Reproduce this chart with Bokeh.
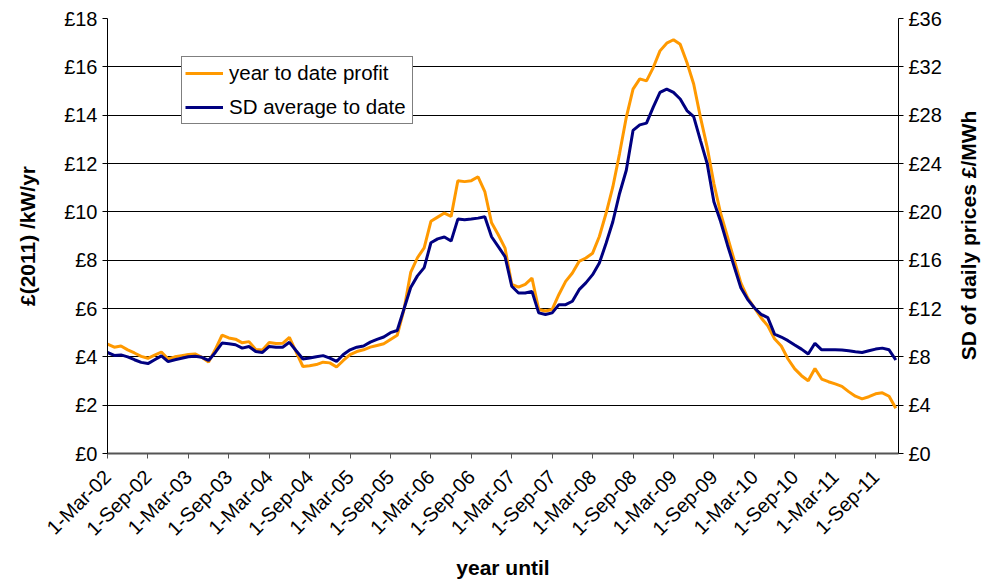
import math
from bokeh.plotting import figure
from bokeh.models import (Range1d, LinearAxis, FixedTicker, SingleIntervalTicker,
                          PrintfTickFormatter, Legend, LegendItem, Label)
from bokeh.embed import file_html
from bokeh.resources import INLINE

# year to date profit, £(2011)/kW/yr (left axis), monthly from 1-Mar-02
profit = [4.53, 4.40, 4.45, 4.29, 4.16, 4.02, 3.94, 4.07, 4.20, 3.91,
          4.00, 4.05, 4.10, 4.12, 3.98, 3.78, 4.30, 4.90, 4.78, 4.73,
          4.58, 4.63, 4.30, 4.28, 4.59, 4.55, 4.56, 4.81, 4.20, 3.60,
          3.63, 3.68, 3.78, 3.75, 3.58, 3.85, 4.09, 4.22, 4.29, 4.40,
          4.47, 4.54, 4.72, 4.89, 5.95, 7.49, 8.10, 8.51, 9.61, 9.78,
          9.95, 9.81, 11.29, 11.25, 11.29, 11.45, 10.84, 9.55, 9.05, 8.50,
          7.00, 6.88, 7.00, 7.26, 5.96, 5.90, 5.96, 6.58, 7.12, 7.47,
          7.95, 8.09, 8.29, 8.98, 9.94, 11.03, 12.41, 13.91, 15.08, 15.50,
          15.42, 15.97, 16.66, 16.98, 17.12, 16.93, 16.18, 15.29, 13.92, 12.68,
          11.17, 9.94, 8.98, 8.02, 7.06, 6.45, 6.03, 5.62, 5.28, 4.75,
          4.45, 3.91, 3.50, 3.22, 3.01, 3.52, 3.08, 2.97, 2.88, 2.78,
          2.56, 2.37, 2.26, 2.35, 2.47, 2.51, 2.37, 1.87]

# SD of daily prices average to date, £/MWh (right axis)
sd_avg = [8.36, 8.12, 8.16, 8.00, 7.76, 7.54, 7.44, 7.76, 8.08, 7.60,
          7.76, 7.88, 8.00, 8.04, 7.96, 7.70, 8.36, 9.14, 9.08, 9.00,
          8.72, 8.86, 8.44, 8.36, 8.86, 8.80, 8.80, 9.20, 8.50, 7.82,
          7.90, 8.00, 8.10, 7.90, 7.62, 8.20, 8.58, 8.80, 8.90, 9.22,
          9.44, 9.64, 10.00, 10.18, 11.96, 13.74, 14.70, 15.38, 17.44, 17.76,
          17.92, 17.58, 19.40, 19.34, 19.40, 19.48, 19.60, 17.94, 17.12, 16.30,
          13.84, 13.28, 13.28, 13.42, 11.64, 11.50, 11.64, 12.32, 12.32, 12.60,
          13.56, 14.12, 14.80, 15.76, 17.40, 19.18, 21.52, 23.44, 26.74, 27.20,
          27.34, 28.66, 29.88, 30.16, 29.88, 29.34, 28.38, 27.88, 25.92, 24.00,
          20.84, 19.20, 17.28, 15.50, 13.72, 12.76, 12.06, 11.52, 11.24, 9.88,
          9.64, 9.34, 8.98, 8.64, 8.24, 9.12, 8.58, 8.58, 8.58, 8.56,
          8.50, 8.42, 8.36, 8.50, 8.64, 8.72, 8.58, 7.74]

months = list(range(len(profit)))

tick_months = [0, 6, 12, 18, 24, 30, 36, 42, 48, 54, 60, 66, 72, 78, 84, 90, 96, 102, 108, 114]
tick_labels = ["1-Mar-02", "1-Sep-02", "1-Mar-03", "1-Sep-03", "1-Mar-04", "1-Sep-04",
               "1-Mar-05", "1-Sep-05", "1-Mar-06", "1-Sep-06", "1-Mar-07", "1-Sep-07",
               "1-Mar-08", "1-Sep-08", "1-Mar-09", "1-Sep-09", "1-Mar-10", "1-Sep-10",
               "1-Mar-11", "1-Sep-11"]

FONT = "Liberation Sans"
ORANGE = "#FF9900"
NAVY = "#000080"

p = figure(width=984, height=582, output_backend="svg", toolbar_location=None,
           x_range=Range1d(0, 117.4), y_range=Range1d(0, 18),
           min_border_left=107, min_border_right=86, min_border_top=18,
           min_border_bottom=128)
p.outline_line_color = None
p.background_fill_color = "white"
p.extra_y_ranges = {"sd": Range1d(0, 36)}

# left axis
ya = p.yaxis[0]
ya.ticker = SingleIntervalTicker(interval=2)
ya.formatter = PrintfTickFormatter(format="£%d")
ya.axis_label = "£(2011) /kW/yr"
ya.minor_tick_line_color = None
ya.major_tick_out = 5
ya.major_tick_in = 0
ya.axis_line_color = "black"
ya.major_tick_line_color = "black"
ya.major_label_text_font = FONT
ya.major_label_text_font_size = "20px"
ya.major_label_text_color = "black"
ya.axis_label_text_font = FONT
ya.axis_label_text_font_style = "bold"
ya.axis_label_text_font_size = "21px"
ya.axis_label_text_color = "black"
ya.axis_label_standoff = 22

# right axis
ra = LinearAxis(y_range_name="sd", ticker=SingleIntervalTicker(interval=4),
                formatter=PrintfTickFormatter(format="£%d"))
ra.minor_tick_line_color = None
ra.major_tick_out = 5
ra.major_tick_in = 0
ra.axis_line_color = "black"
ra.major_label_text_font = FONT
ra.major_label_text_font_size = "20px"
ra.major_label_text_color = "black"
p.add_layout(ra, "right")

# right axis title, reading upwards as in the reference (placed in the right panel)
right_title = Label(x=24, y=218, x_units="screen", y_units="screen",
                    text="SD of daily prices £/MWh", angle=math.pi / 2,
                    text_align="center", text_baseline="middle",
                    text_font=FONT, text_font_style="bold",
                    text_font_size="21px", text_color="black")
p.add_layout(right_title, "right")

# bottom axis
xa = p.xaxis[0]
xa.ticker = FixedTicker(ticks=tick_months)
xa.major_label_overrides = {m: lab for m, lab in zip(tick_months, tick_labels)}
xa.major_label_orientation = math.pi / 4
xa.major_label_standoff = 15
xa.minor_tick_line_color = None
xa.major_tick_out = 5
xa.major_tick_in = 0
xa.axis_line_color = "#555555"
xa.axis_line_width = 2
xa.major_tick_line_color = "#555555"
xa.major_label_text_font = FONT
xa.major_label_text_font_size = "20px"
xa.major_label_text_color = "black"
xa.axis_label = "year until"
xa.axis_label_text_font = FONT
xa.axis_label_text_font_style = "bold"
xa.axis_label_text_font_size = "21px"
xa.axis_label_text_color = "black"
xa.axis_label_standoff = 6

p.xgrid.grid_line_color = None
p.ygrid.grid_line_color = "black"
p.ygrid.grid_line_width = 1
p.ygrid.ticker = SingleIntervalTicker(interval=2)

r1 = p.line(months, profit, line_color=ORANGE, line_width=3)
r2 = p.line(months, sd_avg, line_color=NAVY, line_width=3, y_range_name="sd")

legend = Legend(items=[LegendItem(label="year to date profit", renderers=[r1]),
                       LegendItem(label="SD average to date", renderers=[r2])],
                location=(74, 329))
legend.border_line_color = "black"
legend.border_line_width = 1
legend.background_fill_color = "white"
legend.background_fill_alpha = 1
legend.label_text_font = FONT
legend.label_text_font_size = "20.5px"
legend.label_text_color = "black"
legend.glyph_width = 38
legend.glyph_height = 26
legend.label_height = 26
legend.label_width = 180
legend.spacing = 8
legend.padding = 3
legend.margin = 0
legend.label_standoff = 6
p.add_layout(legend)

open("out.html", "w").write(file_html(p, INLINE))
